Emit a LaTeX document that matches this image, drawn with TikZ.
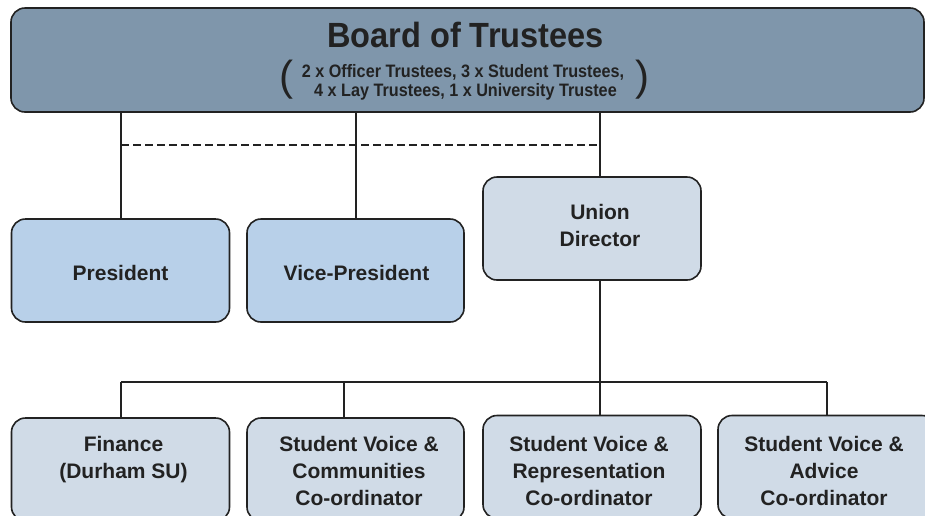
\documentclass[tikz,border=0pt]{standalone}
\usepackage{fontspec}
\setmainfont{Liberation Sans}
\newfontfamily\titlefont{Liberation Sans}[FakeStretch=0.93]
\newfontfamily\subfont{Liberation Sans}[FakeStretch=0.9]
\definecolor{boardfill}{HTML}{7F96AB}
\definecolor{officerfill}{HTML}{B8D0E9}
\definecolor{stafffill}{HTML}{D0DBE7}
\definecolor{inkc}{HTML}{222222}
\tikzset{
  orgbox/.style={draw=inkc, line width=1.6pt, rounded corners=14pt, inner sep=0pt},
  boxtext/.style={text=inkc, font=\bfseries\fontsize{21}{27}\selectfont, align=center, inner sep=0pt},
  conn/.style={draw=inkc, line width=1.5pt},
}
\begin{document}
\begin{tikzpicture}[x=1pt,y=-1pt]
\useasboundingbox (0,0) rectangle (925,515);
\clip (0,0) rectangle (925,515);
% boxes
\node[orgbox, fill=boardfill, minimum width=913pt, minimum height=104pt] (board) at (467.5,60) {};
\node[orgbox, fill=officerfill, minimum width=218pt, minimum height=103pt] (pres) at (120.5,270.5) {};
\node[orgbox, fill=officerfill, minimum width=217pt, minimum height=103pt] (vp) at (355.5,270.5) {};
\node[orgbox, fill=stafffill, minimum width=218pt, minimum height=103pt] (ud) at (592,228.5) {};
\node[orgbox, fill=stafffill, minimum width=218pt, minimum height=103pt] (fin) at (120.5,469.5) {};
\node[orgbox, fill=stafffill, minimum width=217pt, minimum height=103pt] (svc) at (355.5,469.5) {};
\node[orgbox, fill=stafffill, minimum width=218pt, minimum height=103pt] (svr) at (592,467) {};
\node[orgbox, fill=stafffill, minimum width=218pt, minimum height=103pt] (sva) at (827,467) {};
% texts
\node[text=inkc, font=\titlefont\bfseries\fontsize{35}{35}\selectfont, inner sep=0pt, anchor=base] (boardtitle) at (465.5,47) {Board of Trustees};
\node[text=inkc, font=\subfont\bfseries\fontsize{18}{19}\selectfont, inner sep=0pt, anchor=base] (boardsub1) at (463,77) {2 x Officer Trustees, 3 x Student Trustees,};
\node[text=inkc, font=\subfont\bfseries\fontsize{18}{19}\selectfont, inner sep=0pt, anchor=base] (boardsub2) at (465.5,96) {4 x Lay Trustees, 1 x University Trustee};
\node[text=inkc, font=\fontsize{42}{42}\selectfont, inner sep=0pt] (lpar) at (286,80) {(};
\node[text=inkc, font=\fontsize{42}{42}\selectfont, inner sep=0pt] (rpar) at (642,80) {)};
\node[boxtext, anchor=base] (prest) at (120.5,280) {President};
\node[boxtext, anchor=base] (vpt) at (356.5,280) {Vice-President};
\node[boxtext, anchor=base] (udt) at (600,246.5) {Union\\Director};
\node[boxtext, anchor=base] (fint) at (123.5,478) {Finance\\(Durham SU)};
\node[boxtext, anchor=base] (svct) at (359,505) {Student Voice \&\\Communities\\Co-ordinator};
\node[boxtext, anchor=base] (svrt) at (589,505) {Student Voice \&\\Representation\\Co-ordinator};
\node[boxtext, anchor=base] (svat) at (824,505) {Student Voice \&\\Advice\\Co-ordinator};
% connector coordinates
\coordinate (c1) at (121,112);
\coordinate (c2) at (356,112);
\coordinate (c3) at (600,112);
\coordinate (dl) at (121,145);
\coordinate (dr) at (600,145);
\coordinate (hb) at (600,382);
\coordinate (h1) at (121,382);
\coordinate (h2) at (344,382);
\coordinate (h4) at (827,382);
% connectors
\draw[conn] (board.south -| c1) -- (pres.north -| c1);
\draw[conn] (board.south -| c2) -- (vp.north -| c2);
\draw[conn] (board.south -| c3) -- (ud.north -| c3);
\draw[conn, dash pattern=on 8pt off 4pt] (dl) -- (dr);
\draw[conn] (ud.south -| hb) -- (hb);
\draw[conn] (h1) -- (h4);
\draw[conn] (h1) -- (fin.north -| h1);
\draw[conn] (h2) -- (svc.north -| h2);
\draw[conn] (hb) -- (svr.north -| hb);
\draw[conn] (h4) -- (sva.north -| h4);
\end{tikzpicture}
\end{document}
